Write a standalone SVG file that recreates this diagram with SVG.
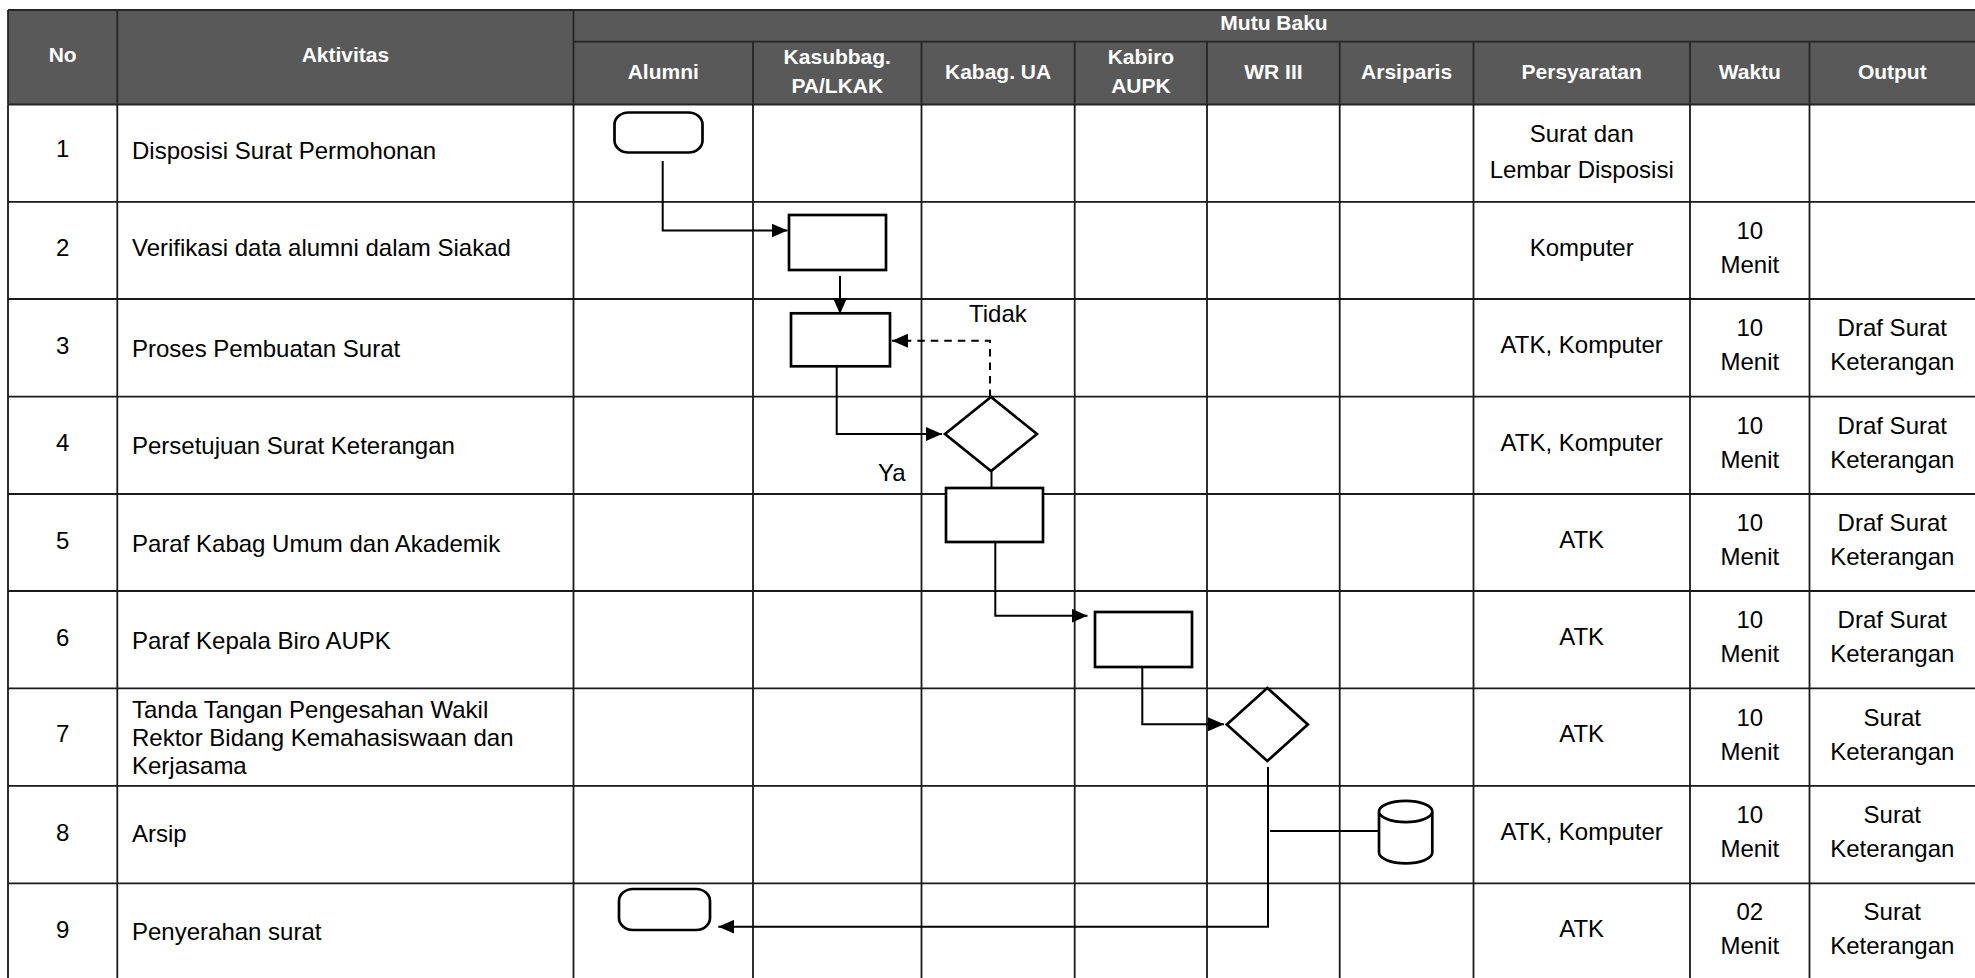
<svg xmlns="http://www.w3.org/2000/svg" width="1975" height="978" viewBox="0 0 1975 978">
<style>
.g{stroke:#1a1a1a;stroke-width:1.8;fill:none}
.gh{stroke:#262626;stroke-width:1.8;fill:none}
.h{font-family:"Liberation Sans",Arial,sans-serif;font-size:21px;font-weight:bold;fill:#fff;text-anchor:middle}
.t{font-family:"Liberation Sans",Arial,sans-serif;font-size:24px;fill:#000}
.c{text-anchor:middle}
.s{fill:#fff;stroke:#000;stroke-width:2.7}
.k{fill:none;stroke:#000;stroke-width:2}
.d{fill:none;stroke:#000;stroke-width:2;stroke-dasharray:7.5 6}
</style>
<defs>
<marker id="ah" markerUnits="userSpaceOnUse" markerWidth="16" markerHeight="14" refX="16" refY="7" orient="auto">
<path d="M0,0 L16,7 L0,14 Z" fill="#000"/>
</marker>
</defs>
<rect x="0" y="0" width="1975" height="978" fill="#fff"/>
<g id="table">
<rect x="8" y="10" width="1967" height="94.5" fill="#595959"/>
<path class="gh" d="M8,10 H1975 M573.5,41.7 H1975 M8,104.5 H1975"/>
<path class="gh" d="M8,10 V104.5 M117.3,10 V104.5 M573.5,10 V104.5 M753,41.7 V104.5 M921.5,41.7 V104.5 M1074.7,41.7 V104.5 M1207,41.7 V104.5 M1339.7,41.7 V104.5 M1473.5,41.7 V104.5 M1690,41.7 V104.5 M1809.5,41.7 V104.5"/>
<path class="g" d="M8,201.8 H1975 M8,299 H1975 M8,396.6 H1975 M8,494 H1975 M8,591 H1975 M8,688.4 H1975 M8,785.8 H1975 M8,883.3 H1975"/>
<path class="g" d="M8,104.5 V978 M117.3,104.5 V978 M573.5,104.5 V978 M753,104.5 V978 M921.5,104.5 V978 M1074.7,104.5 V978 M1207,104.5 V978 M1339.7,104.5 V978 M1473.5,104.5 V978 M1690,104.5 V978 M1809.5,104.5 V978"/>
<text class="h" x="62.7" y="62">No</text>
<text class="h" x="345.4" y="62">Aktivitas</text>
<text class="h" x="1274" y="29.5">Mutu Baku</text>
<text class="h" x="663.3" y="78.5">Alumni</text>
<text class="h" x="837.3" y="64">Kasubbag.</text>
<text class="h" x="837.3" y="93">PA/LKAK</text>
<text class="h" x="998.1" y="78.5">Kabag. UA</text>
<text class="h" x="1140.9" y="64">Kabiro</text>
<text class="h" x="1140.9" y="93">AUPK</text>
<text class="h" x="1273.4" y="78.5">WR III</text>
<text class="h" x="1406.6" y="78.5">Arsiparis</text>
<text class="h" x="1581.7" y="78.5">Persyaratan</text>
<text class="h" x="1749.8" y="78.5">Waktu</text>
<text class="h" x="1892.3" y="78.5">Output</text>
<g class="t c">
<text x="62.7" y="157">1</text>
<text x="62.7" y="256">2</text>
<text x="62.7" y="353.5">3</text>
<text x="62.7" y="450.7">4</text>
<text x="62.7" y="548.5">5</text>
<text x="62.7" y="645.5">6</text>
<text x="62.7" y="742">7</text>
<text x="62.7" y="840.7">8</text>
<text x="62.7" y="937.7">9</text>
</g>
<g class="t">
<text x="132" y="159">Disposisi Surat Permohonan</text>
<text x="132" y="255.8">Verifikasi data alumni dalam Siakad</text>
<text x="132" y="357">Proses Pembuatan Surat</text>
<text x="132" y="454">Persetujuan Surat Keterangan</text>
<text x="132" y="552">Paraf Kabag Umum dan Akademik</text>
<text x="132" y="649">Paraf Kepala Biro AUPK</text>
<text x="132" y="717.7">Tanda Tangan Pengesahan Wakil</text>
<text x="132" y="746">Rektor Bidang Kemahasiswaan dan</text>
<text x="132" y="774">Kerjasama</text>
<text x="132" y="842">Arsip</text>
<text x="132" y="940">Penyerahan surat</text>
</g>
<g class="t c">
<text x="1581.7" y="141.5">Surat dan</text>
<text x="1581.7" y="177.5">Lembar Disposisi</text>
<text x="1581.7" y="256">Komputer</text>
<text x="1581.7" y="352.7">ATK, Komputer</text>
<text x="1581.7" y="450.5">ATK, Komputer</text>
<text x="1581.7" y="548">ATK</text>
<text x="1581.7" y="645">ATK</text>
<text x="1581.7" y="741.7">ATK</text>
<text x="1581.7" y="839.8">ATK, Komputer</text>
<text x="1581.7" y="937.3">ATK</text>
<text x="1749.8" y="239">10</text><text x="1749.8" y="273">Menit</text>
<text x="1749.8" y="336">10</text><text x="1749.8" y="370">Menit</text>
<text x="1749.8" y="433.6">10</text><text x="1749.8" y="467.6">Menit</text>
<text x="1749.8" y="531">10</text><text x="1749.8" y="565">Menit</text>
<text x="1749.8" y="628">10</text><text x="1749.8" y="662">Menit</text>
<text x="1749.8" y="725.5">10</text><text x="1749.8" y="759.5">Menit</text>
<text x="1749.8" y="822.8">10</text><text x="1749.8" y="856.8">Menit</text>
<text x="1749.8" y="920.3">02</text><text x="1749.8" y="954.3">Menit</text>
<text x="1892.3" y="336">Draf Surat</text><text x="1892.3" y="370">Keterangan</text>
<text x="1892.3" y="433.6">Draf Surat</text><text x="1892.3" y="467.6">Keterangan</text>
<text x="1892.3" y="531">Draf Surat</text><text x="1892.3" y="565">Keterangan</text>
<text x="1892.3" y="628">Draf Surat</text><text x="1892.3" y="662">Keterangan</text>
<text x="1892.3" y="725.5">Surat</text><text x="1892.3" y="759.5">Keterangan</text>
<text x="1892.3" y="822.8">Surat</text><text x="1892.3" y="856.8">Keterangan</text>
<text x="1892.3" y="920.3">Surat</text><text x="1892.3" y="954.3">Keterangan</text>
</g>
</g>
<g id="connectors">
<path class="k" d="M662.7,161 V230.5 H787.5" marker-end="url(#ah)"/>
<path class="k" d="M840,276 V314" marker-end="url(#ah)"/>
<path class="k" d="M836.7,366 V434 H942" marker-end="url(#ah)"/>
<path class="d" d="M990,397 V340.7 H892" marker-end="url(#ah)"/>
<path class="k" d="M991.5,470.7 V488"/>
<path class="k" d="M995.3,538 V615.7 H1087.5" marker-end="url(#ah)"/>
<path class="k" d="M1142.3,658 V724.3 H1224" marker-end="url(#ah)"/>
<path class="k" d="M1268,767 V926.7 H718.3" marker-end="url(#ah)" stroke-width="2.3"/>
<path class="k" d="M1270,831 H1379"/>
<text class="t" x="969" y="321.7">Tidak</text>
<text class="t" x="878" y="480.7">Ya</text>
</g>
<g id="start"><rect class="s" x="614.5" y="112.5" width="88" height="40" rx="14" ry="12"/></g>
<g id="verifikasi"><rect class="s" x="789" y="215" width="97" height="55"/></g>
<g id="proses"><rect class="s" x="791" y="313.3" width="99" height="53"/></g>
<g id="persetujuan"><polygon class="s" points="945,434 991,397 1037,434 991,471"/></g>
<g id="paraf-kabag"><rect class="s" x="946" y="488" width="97" height="54"/></g>
<g id="paraf-kabiro"><rect class="s" x="1095" y="612" width="97" height="55"/></g>
<g id="pengesahan"><polygon class="s" points="1226.8,724.5 1267.3,688 1307.8,724.5 1267.3,761"/></g>
<g id="arsip"><path class="s" d="M1379,811.5 A26.65,10.7 0 0 1 1432.3,811.5 V852.6 A26.65,10.7 0 0 1 1379,852.6 Z M1379,811.5 A26.65,10.7 0 0 0 1432.3,811.5"/></g>
<g id="end"><rect class="s" x="619" y="889" width="91" height="41" rx="14" ry="12"/></g>
</svg>
